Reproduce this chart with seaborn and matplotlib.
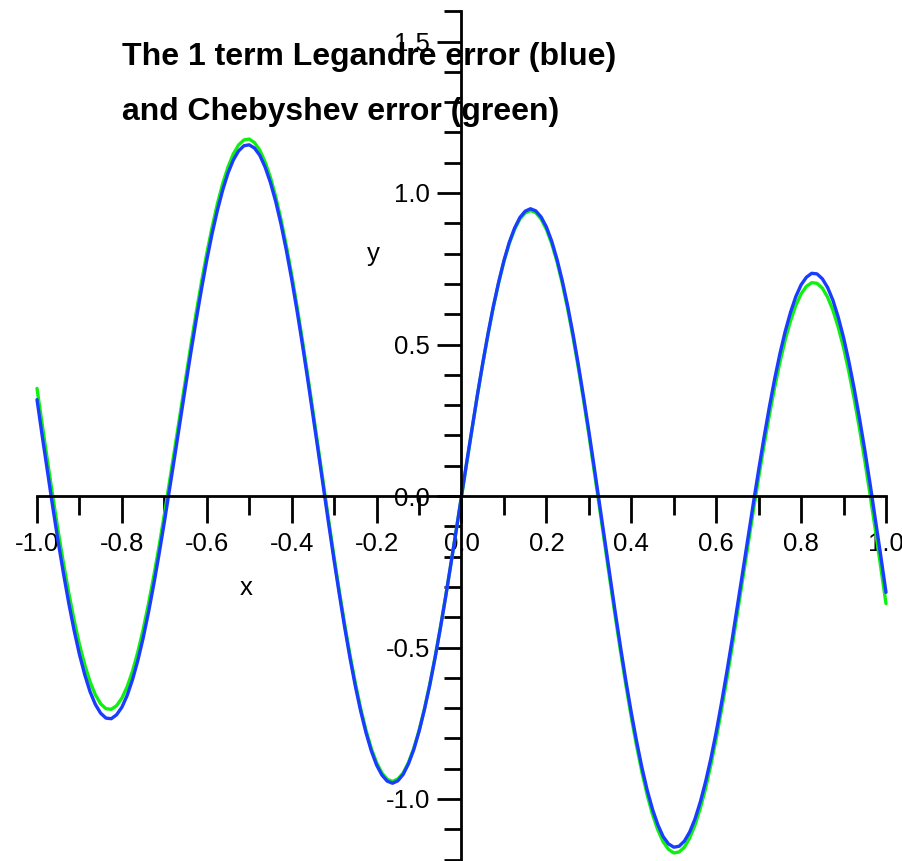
import numpy as np
import pandas as pd
import matplotlib
matplotlib.use("Agg")
import matplotlib.pyplot as plt
import seaborn as sns
from matplotlib.ticker import FixedLocator, NullFormatter

# ---- data ----
# samples on the 0.025 grid
x_grid = np.linspace(-1.0, 1.0, 81)
legendre_grid = [
    0.318, 0.077, -0.152, -0.355, -0.523, -0.646, -0.717, -0.735, -0.697, -0.606,
    -0.469, -0.292, -0.086, 0.136, 0.363, 0.581, 0.779, 0.943, 1.066, 1.139,
    1.159, 1.124, 1.034, 0.896, 0.715, 0.502, 0.268, 0.025, -0.214, -0.435,
    -0.628, -0.781, -0.888, -0.941, -0.940, -0.884, -0.777, -0.626, -0.438, -0.225,
    0.0,
    0.225, 0.438, 0.626, 0.777, 0.884, 0.940, 0.941, 0.888, 0.781, 0.628,
    0.435, 0.214, -0.025, -0.268, -0.502, -0.715, -0.896, -1.034, -1.124, -1.159,
    -1.139, -1.066, -0.943, -0.779, -0.581, -0.363, -0.136, 0.086, 0.292, 0.469,
    0.606, 0.697, 0.735, 0.717, 0.646, 0.523, 0.355, 0.152, -0.077, -0.318,
]
chebyshev_grid = [
    0.355, 0.113, -0.117, -0.321, -0.490, -0.613, -0.686, -0.704, -0.667, -0.578,
    -0.441, -0.265, -0.061, 0.161, 0.387, 0.605, 0.801, 0.965, 1.086, 1.159,
    1.178, 1.141, 1.051, 0.911, 0.730, 0.516, 0.281, 0.037, -0.203, -0.425,
    -0.618, -0.773, -0.880, -0.935, -0.934, -0.880, -0.774, -0.623, -0.436, -0.225,
    0.0,
    0.225, 0.436, 0.623, 0.774, 0.880, 0.934, 0.935, 0.880, 0.773, 0.618,
    0.425, 0.203, -0.037, -0.281, -0.516, -0.730, -0.911, -1.051, -1.141, -1.178,
    -1.159, -1.086, -0.965, -0.801, -0.605, -0.387, -0.161, 0.061, 0.265, 0.441,
    0.578, 0.667, 0.704, 0.686, 0.613, 0.490, 0.321, 0.117, -0.113, -0.355,
]

# samples half-way between the grid points
x_mid = np.linspace(-0.9875, 0.9875, 80)
legendre_mid = [
    0.196, -0.040, -0.257, -0.444, -0.590, -0.688, -0.733, -0.722, -0.658, -0.543,
    -0.385, -0.192, 0.024, 0.250, 0.474, 0.683, 0.866, 1.010, 1.109, 1.156,
    1.148, 1.085, 0.971, 0.810, 0.612, 0.387, 0.147, -0.096, -0.327, -0.536,
    -0.710, -0.841, -0.921, -0.948, -0.919, -0.837, -0.706, -0.536, -0.334, -0.114,
    0.114, 0.334, 0.536, 0.706, 0.837, 0.919, 0.948, 0.921, 0.841, 0.710,
    0.536, 0.327, 0.096, -0.147, -0.387, -0.612, -0.810, -0.971, -1.085, -1.148,
    -1.156, -1.109, -1.010, -0.866, -0.683, -0.474, -0.250, -0.024, 0.192, 0.385,
    0.543, 0.658, 0.722, 0.733, 0.688, 0.590, 0.444, 0.257, 0.040, -0.196,
]
chebyshev_mid = [
    0.233, -0.004, -0.223, -0.410, -0.557, -0.656, -0.702, -0.692, -0.629, -0.515,
    -0.357, -0.166, 0.049, 0.274, 0.498, 0.706, 0.887, 1.031, 1.129, 1.175,
    1.166, 1.102, 0.987, 0.825, 0.626, 0.400, 0.159, -0.084, -0.317, -0.526,
    -0.701, -0.833, -0.914, -0.942, -0.914, -0.833, -0.703, -0.533, -0.333, -0.113,
    0.113, 0.333, 0.533, 0.703, 0.833, 0.914, 0.942, 0.914, 0.833, 0.701,
    0.526, 0.317, 0.084, -0.159, -0.400, -0.626, -0.825, -0.987, -1.102, -1.166,
    -1.175, -1.129, -1.031, -0.887, -0.706, -0.498, -0.274, -0.049, 0.166, 0.357,
    0.515, 0.629, 0.692, 0.702, 0.656, 0.557, 0.410, 0.223, 0.004, -0.233,
]

x_major_ticks = [-1.0, -0.8, -0.6, -0.4, -0.2, 0.0, 0.2, 0.4, 0.6, 0.8, 1.0]
x_minor_ticks = [-0.9, -0.7, -0.5, -0.3, -0.1, 0.1, 0.3, 0.5, 0.7, 0.9]
x_tick_labels = ["-1.0", "-0.8", "-0.6", "-0.4", "-0.2", "0.0", "0.2", "0.4", "0.6", "0.8", "1.0"]
y_major_ticks = [-1.0, -0.5, 0.0, 0.5, 1.0, 1.5]
y_minor_ticks = [-1.2, -1.1, -0.9, -0.8, -0.7, -0.6, -0.4, -0.3, -0.2, -0.1,
                 0.1, 0.2, 0.3, 0.4, 0.6, 0.7, 0.8, 0.9, 1.1, 1.2, 1.3, 1.4, 1.6]
y_tick_labels = ["-1.0", "-0.5", "0.0", "0.5", "1.0", "1.5"]

title_lines = ["The 1 term Legandre error (blue)", "and Chebyshev error (green)"]

# ---- style ----
sns.set_style("white")
plt.rcParams["font.family"] = ["Liberation Sans", "DejaVu Sans"]
plt.rcParams["text.color"] = "black"
plt.rcParams["xtick.color"] = "black"
plt.rcParams["ytick.color"] = "black"

W, H = 903, 861
fig = plt.figure(figsize=(W / 100, H / 100), dpi=100)
ax = fig.add_axes([0, 0, 1, 1])

df = pd.concat([
    pd.DataFrame({"x": x_grid, "legendre": legendre_grid, "chebyshev": chebyshev_grid}),
    pd.DataFrame({"x": x_mid, "legendre": legendre_mid, "chebyshev": chebyshev_mid}),
]).sort_values("x").reset_index(drop=True)

sns.lineplot(data=df, x="x", y="chebyshev", color="#10f010", linewidth=2.4, ax=ax)
sns.lineplot(data=df, x="x", y="legendre", color="#1a3cff", linewidth=2.4, ax=ax)

# pixel mapping: x=0 at 461.5px, 424.5 px/unit; y=0 at 496px, 303 px/unit
x0, sx = 461.5, 424.5
y0, sy = 496.0, 303.0
ax.set_xlim(-x0 / sx, (W - x0) / sx)
ax.set_ylim((y0 - H) / sy, y0 / sy)

for s in ["top", "right"]:
    ax.spines[s].set_visible(False)
ax.spines["left"].set_position(("data", 0))
ax.spines["bottom"].set_position(("data", 0))
ax.spines["left"].set_bounds(-1.2, 1.6)
ax.spines["bottom"].set_bounds(-1.0, 1.0)
for s in ["left", "bottom"]:
    ax.spines[s].set_linewidth(2.0)
    ax.spines[s].set_color("black")

ax.xaxis.set_major_locator(FixedLocator(x_major_ticks))
ax.xaxis.set_minor_locator(FixedLocator(x_minor_ticks))
ax.set_xticklabels(x_tick_labels)
ax.yaxis.set_major_locator(FixedLocator(y_major_ticks))
ax.yaxis.set_minor_locator(FixedLocator(y_minor_ticks))
ax.set_yticklabels(y_tick_labels)
ax.xaxis.set_minor_formatter(NullFormatter())
ax.yaxis.set_minor_formatter(NullFormatter())

ax.tick_params(axis="x", which="major", direction="out", length=19.4, width=2.0,
               pad=6.5, labelsize=18.5, colors="black", bottom=True)
ax.tick_params(axis="x", which="minor", direction="out", length=13.7, width=2.0,
               colors="black", bottom=True)
ax.tick_params(axis="y", which="major", direction="out", length=17.3, width=2.0,
               pad=5.5, labelsize=18.5, colors="black", left=True)
ax.tick_params(axis="y", which="minor", direction="out", length=12.2, width=2.0,
               colors="black", left=True)

ax.set_xlabel("")
ax.set_ylabel("")
ax.grid(False)

ax.text((246 - x0) / sx, (y0 - 595) / sy, "x", fontsize=18.5, color="black",
        ha="center", va="baseline")
ax.text((373 - x0) / sx, (y0 - 261) / sy, "y", fontsize=18.5, color="black",
        ha="center", va="baseline")

fig.text(122 / W, 1 - 65 / H, title_lines[0], fontsize=23, fontweight="bold",
         color="black", ha="left", va="baseline")
fig.text(122 / W, 1 - 120 / H, title_lines[1], fontsize=23, fontweight="bold",
         color="black", ha="left", va="baseline")

fig.savefig("out.png", dpi=100)
